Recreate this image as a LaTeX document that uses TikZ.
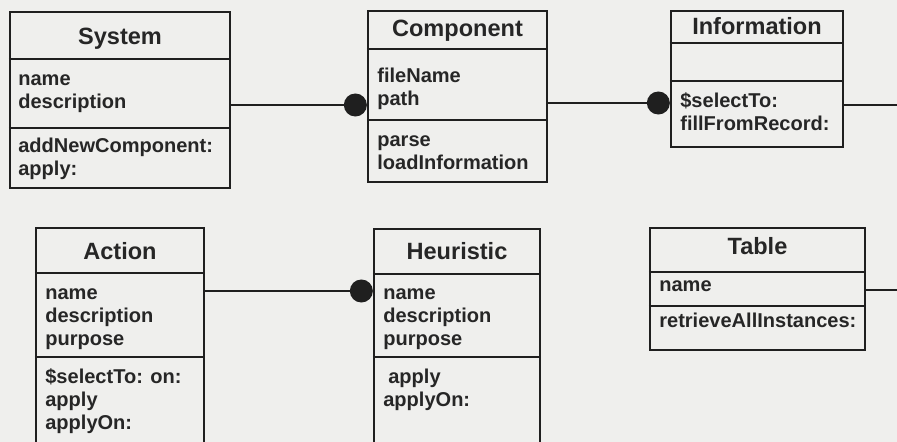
\documentclass[tikz,border=0pt]{standalone}
\usepackage{fontspec}
\setmainfont{Liberation Sans}
\usetikzlibrary{arrows.meta,fit}
\definecolor{UMLPaper}{HTML}{EFEFED}
\definecolor{UMLInk}{HTML}{1F1F1F}
\definecolor{UMLText}{HTML}{262626}
\tikzset{
  classbox/.style={draw=UMLInk,line width=1.3pt,inner sep=0pt},
  classname/.style={text=UMLText,font=\fontsize{13.4}{15}\selectfont\bfseries,anchor=base,inner sep=0pt},
  members/.style={text=UMLText,font=\fontsize{11.4}{13.1}\selectfont\bfseries,align=left,
                  anchor=base west,inner sep=0pt},
  divider/.style={draw=UMLInk,line width=1.3pt},
  wire/.style={draw=UMLInk,line width=1.1pt},
  assoc/.style={wire,-{Circle[length=4.6mm]}},
}
% box of a class from its corners, in pixels of the scan
\newcommand{\umlclass}[5]{%
  \node[classbox,fit={(#2,#3) (#4,#5)}] (#1) {};%
}
\newcommand{\umlrule}[2]{%
  \draw[divider] (#1.west |- 0,#2) -- (#1.east |- 0,#2);%
}

\begin{document}
\begin{tikzpicture}[x=0.02cm,y=-0.02cm]
    \useasboundingbox (0,0) rectangle (897,442);
    \clip (0,0) rectangle (897,442);
    \fill[UMLPaper] (0,0) rectangle (897,442);

    % upper row (member texts sit on the baseline of their last line)
    \umlclass{system}{10}{12}{230}{188}
    \umlrule{system}{59}\umlrule{system}{128}
    \node[classname] (systemname) at (system.north |- 0,45) {System};
    \node[members] (systemattr) at (18,109) {name\\description};
    \node[members] (systemops) at (18,176) {addNewComponent:\\apply:};

    \umlclass{component}{368}{11}{547}{182}
    \umlrule{component}{49}\umlrule{component}{120}
    \node[classname] (componentname) at (component.north |- 0,37) {Component};
    \node[members] (componentattr) at (377,106) {fileName\\path};
    \node[members] (componentops) at (377,170) {parse\\loadInformation};

    \umlclass{information}{671}{11}{843}{147}
    \umlrule{information}{43}\umlrule{information}{81}
    \node[classname] (informationname) at (information.north |- 0,35) {Information};
    \node[members] (informationops) at (680,131) {\$selectTo:\\fillFromRecord:};

    % lower row, cut off by the page
    \umlclass{action}{36}{228}{204}{470}
    \umlrule{action}{273}\umlrule{action}{357}
    \node[classname] (actionname) at (action.north |- 0,260) {Action};
    \node[members] (actionattr) at (45,346) {name\\description\\purpose};
    \node[members] (actionops) at (45,430) {\$selectTo: on:\\apply\\applyOn:};

    \umlclass{heuristic}{374}{229}{540}{470}
    \umlrule{heuristic}{274}\umlrule{heuristic}{357}
    \node[classname] (heuristicname) at (heuristic.north |- 0,260) {Heuristic};
    \node[members] (heuristicattr) at (383,346) {name\\description\\purpose};
    \node[members] (heuristicops) at (383,407) {\hspace{1mm}apply\\applyOn:};

    \umlclass{table}{650}{228}{865}{350}
    \umlrule{table}{272}\umlrule{table}{306}
    \node[classname] (tablename) at (table.north |- 0,255) {Table};
    \node[members] (tableattr) at (659,292) {name};
    \node[members] (tableops) at (659,328) {retrieveAllInstances:};

    % associations
    \coordinate (infoout) at (897,105);
    \coordinate (tableout) at (897,290);
    \draw[assoc] (system.east |- 0,105) -- (component.west |- 0,105);
    \draw[assoc] (component.east |- 0,103) -- (information.west |- 0,103);
    \draw[wire] (information.east |- 0,105) -- (infoout);
    \draw[assoc] (action.east |- 0,291) -- (heuristic.west |- 0,291);
    \draw[wire] (table.east |- 0,290) -- (tableout);
  \end{tikzpicture}
\end{document}
